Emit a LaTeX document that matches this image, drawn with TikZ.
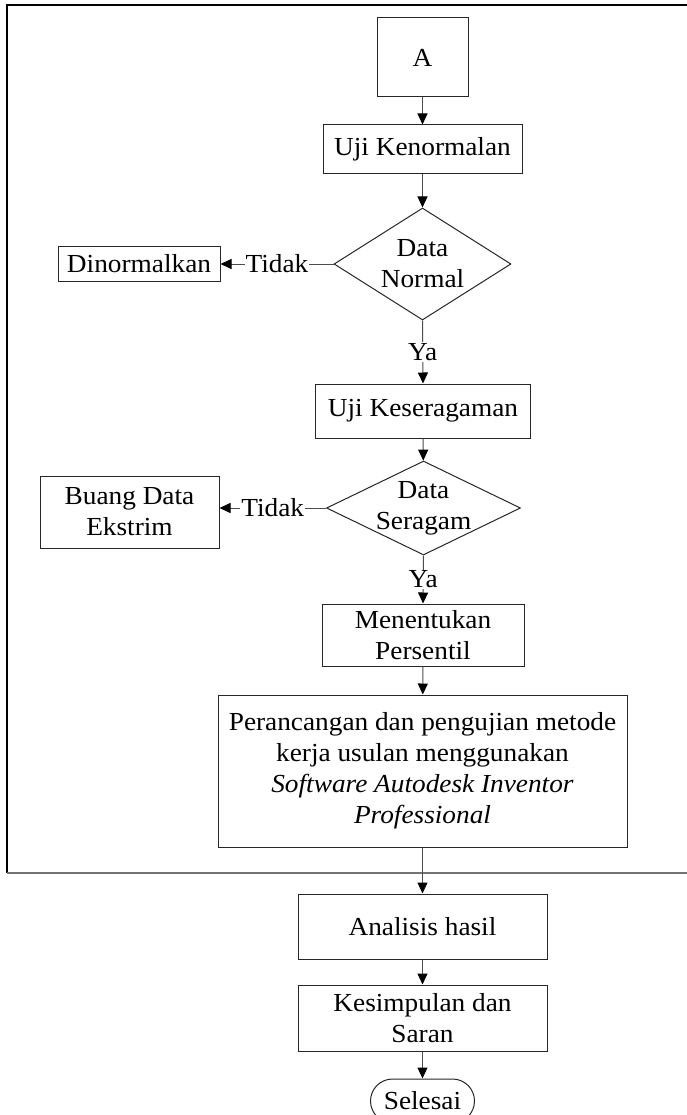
\documentclass[tikz,border=0pt]{standalone}
\usepackage{fontspec}
\setmainfont{Liberation Serif}[FakeStretch=1.05]
\usetikzlibrary{arrows.meta,shapes.geometric}

\begin{document}
\begin{tikzpicture}[x=1pt,y=-1pt, font=\fontsize{26}{31}\selectfont,
    box/.style={draw=black!85, line width=1pt, inner sep=0pt, align=center},
    choice/.style={draw=black!85, line width=1pt, diamond, inner sep=0pt, align=center},
    flow/.style={draw=black!70, line width=1pt, -{Triangle[length=11pt,width=10pt,color=black]}},
    tag/.style={fill=white, inner sep=1pt}]
    \useasboundingbox (0,0) rectangle (687,1115);
    % frame round the first part
    \draw[line width=1.3pt] (687,5) -- (7,5) -- (7,873);
    \draw[line width=1.6pt, black!55] (7,873) -- (687,873);

    \node[box, minimum width=91, minimum height=79] (a) at (422.5,57.5) {A};
    \node[box, minimum width=199, minimum height=49] (ujinormal) at (422.5,149.5) {Uji Kenormalan};
    \node[choice, minimum width=177, minimum height=112, aspect=1.58] (normal) at (422.5,264) {Data\\Normal};
    \node[box, minimum width=162, minimum height=35] (dinormal) at (139,264) {Dinormalkan};
    \node[box, minimum width=215, minimum height=54] (ujiseragam) at (423,411) {Uji Keseragaman};
    \node[choice, minimum width=194, minimum height=94, aspect=2.06, inner ysep=-5pt] (seragam) at (423.5,508) {Data\\Seragam};
    \node[box, minimum width=179, minimum height=72] (buang) at (129.5,512) {Buang Data\\Ekstrim};
    \node[box, minimum width=202, minimum height=62] (persentil) at (423,635) {Menentukan\\Persentil};
    \node[box, minimum width=409, minimum height=152] (rancang) at (422.5,771)
        {Perancangan dan pengujian metode\\kerja usulan menggunakan\\\textit{Software Autodesk Inventor}\\\textit{Professional}};
    \node[box, minimum width=249, minimum height=65] (analisis) at (422.5,926.5) {Analisis hasil};
    \node[box, minimum width=249, minimum height=66] (simpul) at (422.5,1018) {Kesimpulan dan\\Saran};
    \node[box, rounded corners=22pt, minimum width=104, minimum height=44] (selesai) at (422.5,1101) {Selesai};

    \draw[flow] (a) -- (ujinormal);
    \draw[flow] (ujinormal) -- (normal);
    \draw[flow] (normal.west) -- node[tag] {Tidak} (dinormal.east);
    \draw[flow] (normal.south) -- node[tag] {Ya} (ujiseragam.north);
    \draw[flow] (ujiseragam) -- (seragam);
    \draw[flow] (seragam.west) -- node[tag] {Tidak} (seragam.west -| buang.east);
    \draw[flow] (seragam.south) -- node[tag] {Ya} (persentil.north);
    \draw[flow] (persentil) -- (rancang);
    \draw[flow] (rancang) -- (analisis);
    \draw[flow] (analisis) -- (simpul);
    \draw[flow] (simpul) -- (selesai);
\end{tikzpicture}
\end{document}
